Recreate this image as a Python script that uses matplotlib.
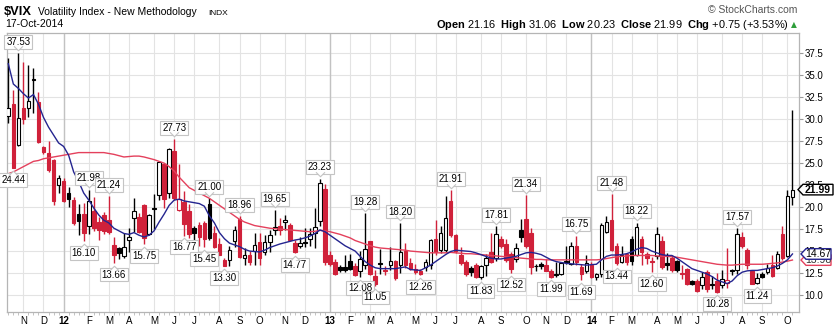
import numpy as np
import pandas as pd
import matplotlib
matplotlib.use('Agg')
import matplotlib.pyplot as plt
from matplotlib.patches import Polygon, Rectangle
from matplotlib.path import Path
from matplotlib.transforms import IdentityTransform, offset_copy

plt.rcParams['font.family'] = ['Liberation Sans', 'DejaVu Sans']
plt.rcParams['mathtext.fontset'] = 'custom'
plt.rcParams['mathtext.rm'] = 'Liberation Sans'
plt.rcParams['mathtext.bf'] = 'Liberation Sans:bold'

W, H = 836, 331

# weekly bars, week ending Friday
weeks = pd.date_range('2011-10-21', '2014-10-17', freq='W-FRI')

opens = [30.4, 31.7, 27.1, 31.3, 31.3, 34.6, 32.0, 26.8, 26.2, 25.4,
         22.5, 23.0, 21.6, 20.8, 19.2, 19.2, 17.9, 19.6, 18.3, 19.1,
         18.5, 15.7, 15.3, 14.4, 16.3, 18.8, 18.9, 20.2, 16.9, 19.85,
         21.4, 24.9, 21.6, 26.4, 19.7, 20.6, 19.5, 17.6, 18.0, 18.2,
         20.4, 17.0, 15.8, 14.0, 14.0, 16.1, 18.7, 14.2, 14.6, 15.0,
         16.0, 14.9, 16.0, 17.4, 17.9, 18.3, 18.0, 15.9, 15.6, 16.0,
         16.4, 17.1, 18.4, 22.1, 14.5, 13.8, 13.2, 13.2, 13.9, 13.3,
         12.7, 13.4, 16.1, 12.2, 13.6, 12.8, 13.4, 13.9, 13.4, 15.0,
         13.6, 13.0, 12.7, 13.2, 13.4, 16.4, 15.1, 15.1, 20.7, 16.8,
         14.6, 13.8, 13.1, 13.4, 12.1, 13.4, 14.9, 14.2, 16.4, 15.8,
         14.7, 14.1, 17.4, 18.6, 17.0, 13.3, 13.5, 13.4, 12.7, 12.35,
         12.4, 13.85, 13.5, 15.6, 13.2, 12.7, 13.4, 12.0, 12.4, 17.2,
         18.5, 15.6, 13.8, 14.7, 16.4, 14.6, 16.4, 14.7, 13.9, 14.4,
         16.1, 13.6, 14.2, 13.9, 12.5, 13.0, 11.6, 11.6, 11.1, 12.6,
         11.15, 11.6, 11.1, 11.4, 12.75, 12.8, 16.6, 15.1, 12.7, 11.4,
         12.4, 12.6, 13.4, 13.1, 16.9, 14.4, 21.16]
highs = [36.9, 33.3, 37.53, 36.5, 36.2, 35.8, 33.1, 27.0, 27.5, 25.5,
         23.7, 23.3, 22.3, 21.2, 20.4, 20.5, 21.98, 21.2, 18.9, 19.4,
         21.24, 16.6, 15.5, 17.0, 17.6, 21.0, 19.3, 20.4, 19.2, 21.5,
         25.2, 25.0, 26.7, 27.73, 24.9, 21.8, 20.3, 17.8, 18.3, 18.4,
         21.0, 17.8, 16.5, 14.2, 15.6, 17.9, 18.96, 15.3, 15.0, 17.0,
         17.0, 16.8, 17.4, 19.65, 18.8, 19.1, 18.2, 16.3, 16.6, 17.6,
         17.6, 19.9, 23.23, 22.6, 15.0, 14.1, 13.4, 14.6, 14.7, 13.6,
         15.0, 19.28, 16.2, 12.9, 15.2, 13.3, 15.5, 14.0, 18.20, 15.9,
         14.2, 13.5, 13.0, 14.1, 16.4, 18.5, 17.9, 21.3, 21.91, 16.9,
         15.5, 14.0, 13.3, 13.6, 13.4, 14.7, 17.0, 17.81, 16.7, 16.4,
         14.9, 15.9, 18.7, 21.34, 17.6, 13.5, 13.8, 14.1, 13.0, 13.8,
         13.8, 15.6, 16.0, 16.75, 13.5, 14.6, 13.7, 12.5, 18.2, 19.0,
         21.48, 15.9, 15.6, 14.8, 16.7, 18.22, 16.7, 14.9, 14.3, 17.7,
         16.7, 14.8, 14.5, 14.0, 13.4, 13.1, 11.7, 11.8, 12.6, 12.9,
         12.2, 12.5, 12.9, 15.3, 13.0, 17.57, 17.2, 15.3, 12.9, 12.5,
         12.6, 13.5, 14.6, 15.0, 17.9, 22.0, 31.06]
lows = [29.6, 24.44, 26.9, 29.5, 30.3, 30.7, 27.3, 26.0, 24.0, 20.2,
        21.6, 20.6, 20.0, 18.0, 16.8, 16.10, 16.9, 17.3, 16.3, 16.9,
        16.9, 13.66, 14.1, 14.2, 14.9, 17.2, 17.0, 15.75, 16.8, 17.5,
        20.8, 19.9, 21.0, 20.8, 19.5, 16.77, 16.5, 16.3, 15.6, 15.45,
        16.3, 15.3, 14.5, 13.30, 13.35, 15.5, 14.2, 13.4, 13.4, 13.4,
        13.4, 14.5, 14.9, 16.8, 16.8, 17.4, 16.1, 14.77, 15.3, 15.5,
        15.6, 15.3, 17.8, 13.4, 13.3, 12.3, 12.6, 12.6, 12.8, 12.2,
        12.08, 13.0, 12.3, 11.05, 12.4, 12.3, 12.8, 11.7, 12.5, 13.1,
        12.9, 12.4, 12.26, 12.7, 13.0, 14.6, 14.8, 14.9, 16.6, 14.8,
        13.4, 12.2, 12.2, 11.9, 11.83, 12.2, 13.6, 13.9, 15.3, 13.8,
        12.52, 13.8, 16.0, 15.3, 12.4, 12.7, 13.0, 12.7, 11.99, 12.1,
        12.3, 13.5, 13.4, 13.4, 11.69, 12.5, 11.9, 11.7, 12.1, 17.0,
        15.0, 13.44, 13.6, 13.4, 13.4, 14.4, 13.4, 13.5, 12.60, 14.1,
        13.0, 12.8, 12.6, 12.6, 11.8, 11.1, 11.1, 10.4, 10.7, 10.4,
        10.7, 10.28, 10.8, 10.8, 12.3, 12.4, 15.3, 13.0, 11.3, 11.24,
        11.9, 12.4, 12.0, 13.0, 14.0, 14.3, 20.23]
closes = [31.3, 24.5, 30.1, 30.0, 32.1, 34.5, 27.4, 26.3, 24.2, 20.7,
          23.3, 20.7, 20.9, 18.2, 18.4, 17.1, 20.7, 17.6, 17.4, 17.3,
          17.2, 14.5, 14.8, 15.5, 16.6, 19.5, 17.2, 16.5, 19.1, 19.8,
          25.1, 20.9, 26.6, 21.0, 20.9, 18.1, 16.9, 17.0, 16.6, 16.4,
          16.45, 15.5, 14.6, 13.35, 15.1, 17.4, 14.3, 14.5, 13.8, 15.7,
          14.2, 16.0, 16.8, 17.7, 17.4, 18.5, 16.3, 14.9, 15.9, 15.9,
          16.9, 17.7, 22.7, 13.7, 13.5, 12.4, 12.8, 12.85, 13.0, 12.3,
          14.1, 15.2, 12.4, 11.2, 13.5, 12.7, 13.9, 11.9, 14.9, 13.4,
          13.0, 12.6, 12.4, 13.8, 16.3, 14.9, 17.0, 18.8, 16.8, 15.0,
          13.6, 12.4, 12.6, 12.0, 13.3, 14.2, 13.8, 16.9, 15.6, 14.0,
          13.0, 15.4, 16.6, 15.6, 13.2, 13.25, 13.3, 12.7, 12.1, 12.3,
          13.6, 13.8, 15.6, 13.7, 12.4, 13.6, 12.0, 12.4, 18.0, 18.3,
          15.1, 13.6, 14.5, 13.7, 13.9, 17.7, 14.9, 14.2, 13.8, 16.9,
          13.2, 13.4, 12.8, 12.85, 12.4, 11.2, 11.25, 10.5, 12.1, 10.7,
          11.1, 10.3, 11.8, 11.7, 12.7, 16.9, 15.6, 13.4, 11.3, 11.9,
          12.1, 13.1, 12.2, 14.7, 14.2, 21.24, 21.99]

# 10-week and 40-week simple moving averages
sma10 = [36.3, 34.0, 33.5, 32.9, 32.4, 32.8, 31.7, 30.2, 29.1, 28.2,
         27.3, 26.9, 25.9, 24.0, 22.9, 21.6, 20.8, 19.9, 19.1, 18.5,
         18.2, 17.6, 17.3, 17.0, 16.9, 17.1, 16.8, 16.6, 16.8, 17.3,
         18.3, 19.2, 20.2, 20.8, 20.9, 20.7, 20.6, 20.5, 20.4, 20.1,
         19.0, 18.2, 17.1, 16.4, 15.9, 15.7, 15.5, 15.2, 15.0, 14.95,
         14.9, 15.1, 15.4, 15.6, 15.8, 15.95, 16.1, 16.25, 16.35, 16.5,
         16.7, 17.0, 17.4, 17.2, 16.8, 16.4, 16.0, 15.6, 15.3, 15.0,
         14.4, 13.8, 13.4, 13.1, 13.0, 13.0, 13.0, 13.0, 13.1, 13.2,
         12.9, 12.85, 12.8, 13.1, 13.4, 13.8, 14.2, 14.6, 14.95, 15.1,
         15.05, 15.0, 14.95, 14.8, 14.6, 14.4, 14.2, 14.1, 14.1, 14.2,
         14.3, 14.4, 14.6, 14.8, 14.85, 14.75, 14.6, 14.3, 14.0, 13.8,
         13.7, 13.6, 13.55, 13.5, 13.45, 13.4, 13.45, 13.5, 14.0, 14.4,
         14.55, 14.55, 14.6, 14.7, 14.9, 15.2, 15.4, 15.3, 15.0, 14.8,
         14.6, 14.5, 14.5, 14.2, 13.8, 13.4, 13.0, 12.8, 12.6, 12.4,
         12.1, 11.7, 11.5, 11.3, 11.6, 12.2, 12.6, 12.75, 12.8, 12.8,
         12.9, 13.0, 13.1, 13.3, 13.6, 14.0, 14.67]
sma40 = [23.8, 24.0, 24.3, 24.6, 24.9, 25.2, 25.3, 25.5, 25.6, 25.7,
         25.8, 25.9, 26.0, 26.1, 26.2, 26.2, 26.2, 26.2, 26.2, 26.2,
         26.1, 26.0, 25.85, 25.7, 25.75, 25.8, 25.8, 25.7, 25.55, 25.4,
         25.2, 25.0, 24.6, 24.1, 23.4, 22.8, 22.2, 21.9, 21.6, 21.3,
         21.0, 20.6, 20.2, 19.8, 19.4, 19.0, 18.6, 18.3, 18.1, 17.9,
         17.8, 17.7, 17.6, 17.55, 17.5, 17.45, 17.4, 17.35, 17.3, 17.25,
         17.2, 17.25, 17.35, 17.3, 17.2, 17.05, 16.9, 16.7, 16.5, 16.2,
         16.0, 15.8, 15.6, 15.45, 15.35, 15.3, 15.25, 15.2, 15.15, 15.1,
         15.0, 14.95, 14.9, 14.85, 14.8, 14.8, 14.8, 14.8, 14.85, 14.8,
         14.75, 14.7, 14.7, 14.65, 14.6, 14.55, 14.5, 14.45, 14.4, 14.35,
         14.3, 14.25, 14.2, 14.15, 14.1, 14.05, 14.05, 14.0, 14.0, 14.0,
         14.0, 14.0, 14.0, 14.0, 14.0, 14.0, 14.0, 14.0, 14.05, 14.15,
         14.25, 14.35, 14.4, 14.45, 14.5, 14.5, 14.5, 14.5, 14.5, 14.45,
         14.4, 14.4, 14.35, 14.3, 14.2, 14.1, 14.0, 13.9, 13.8, 13.7,
         13.6, 13.5, 13.45, 13.4, 13.4, 13.45, 13.5, 13.5, 13.5, 13.5,
         13.5, 13.55, 13.6, 13.65, 13.75, 13.85, 13.98]

# weeks whose high / low carries a value tag
peak_weeks = [2, 16, 20, 33, 40, 46, 53, 62, 71, 78, 88, 97, 103, 113, 120, 125, 145]
trough_weeks = [1, 15, 21, 27, 35, 39, 43, 57, 70, 73, 82, 94, 100, 108, 114,
                121, 128, 141, 149]

RED = '#d0213a'
BLUE_MA = '#24248f'
RED_MA = '#e4405c'
GRID = '#e3e3e3'
TAG_EDGE = '#c4c4c4'

fig = plt.figure(figsize=(W / 100, H / 100), dpi=100)
left, right, top, bottom = 6.7, 799, 33, 312
ax = fig.add_axes([left / W, 1 - bottom / H, (right - left) / W, (bottom - top) / H])

x = np.arange(len(weeks))
o = np.array(opens)
h = np.array(highs)
l = np.array(lows)
c = np.array(closes)
prev = np.r_[c[0], c[:-1]]

for i in x:
    col = RED if c[i] < prev[i] else 'black'
    hollow = c[i] > o[i]
    ax.vlines(i, l[i], h[i], color=col, lw=1.0, zorder=3)
    lo = min(o[i], c[i])
    ht = max(abs(c[i] - o[i]), 0.1)
    ax.add_patch(Rectangle((i - 0.36, lo), 0.72, ht, fc='white' if hollow else col,
                           ec=col, lw=0.8, zorder=4))

ax.plot(x, sma40, color=RED_MA, lw=1.0, zorder=5)
ax.plot(x, sma10, color=BLUE_MA, lw=1.0, zorder=5)

ax.set_xlim(-0.32, 157.3)
ax.set_ylim(8.07, 39.8)

# month gridlines start on the first week whose Monday is in the new month
mondays = weeks - pd.Timedelta(days=4)
tick_idx = [i for i in range(1, len(weeks)) if mondays[i].month != mondays[i - 1].month]
labels = [f'{mondays[i].year % 100:02d}' if mondays[i].month == 1
          else 'JFMAMJJASOND'[mondays[i].month - 1] for i in tick_idx]
ax.set_xticks(tick_idx)
ax.set_xticklabels(labels)
for lab, i in zip(ax.get_xticklabels(), tick_idx):
    if mondays[i].month == 1:
        lab.set_fontweight('bold')
ax.set_xticks(x, minor=True)
ax.tick_params(axis='x', which='major', length=0, pad=3, labelsize=7)
ax.tick_params(axis='x', which='minor', length=2, width=0.5, color='#aaaaaa')

ax.set_yticks(np.arange(10, 37.6, 2.5))
ax.yaxis.set_major_formatter(plt.FuncFormatter(lambda v, p: f'{v:.1f}'))
ax.yaxis.tick_right()
ax.tick_params(axis='y', length=3, width=0.8, color='#999999', pad=1, labelsize=7)

ax.set_axisbelow(True)
ax.grid(True, color=GRID, lw=0.8)
for i in tick_idx:
    if mondays[i].month == 1:
        ax.axvline(i, color='#c2c2c2', lw=1.0, zorder=1)
for s in ax.spines.values():
    s.set_color('#b5b5b5')
    s.set_linewidth(0.9)

# value tags on swing highs and lows
notch_dn = Path([(-1, 0.5), (0, -0.5), (1, 0.5)])
notch_up = Path([(-1, -0.5), (0, 0.5), (1, -0.5)])
for i in peak_weeks:
    ax.annotate(f'{highs[i]:.2f}', xy=(i, highs[i]), xytext=(0, 8.2), textcoords='offset points',
                ha='center', va='center', fontsize=7,
                bbox=dict(boxstyle='square,pad=0.2', fc='white', ec=TAG_EDGE, lw=0.8),
                zorder=7, annotation_clip=False)
    ax.plot(i, highs[i], marker=notch_dn, ms=6.5, mfc='white', mec=TAG_EDGE, mew=0.8,
            transform=offset_copy(ax.transData, fig=fig, x=0, y=4.8, units='dots'),
            zorder=8, clip_on=False)
for i in trough_weeks:
    ax.annotate(f'{lows[i]:.2f}', xy=(i, lows[i]), xytext=(0, -8.4), textcoords='offset points',
                ha='center', va='center', fontsize=7,
                bbox=dict(boxstyle='square,pad=0.2', fc='white', ec=TAG_EDGE, lw=0.8),
                zorder=7, annotation_clip=False)
    ax.plot(i, lows[i], marker=notch_up, ms=6.5, mfc='white', mec=TAG_EDGE, mew=0.8,
            transform=offset_copy(ax.transData, fig=fig, x=0, y=-4.8, units='dots'),
            zorder=8, clip_on=False)


def price_tag(val, text, edge, color, weight, tip, end, z):
    yc = ax.transData.transform((0, val))[1]
    hh = 5.3
    pts = [(tip, yc), (tip + 5, yc + hh), (end, yc + hh), (end, yc - hh), (tip + 5, yc - hh)]
    fig.add_artist(Polygon(pts, closed=True, fc='white', ec=edge, lw=1.0,
                           transform=IdentityTransform(), zorder=z))
    fig.text((tip + end) / 2 + 2.5, yc, text, transform=IdentityTransform(), ha='center',
             va='center', fontsize=7.5, fontweight=weight, color=color, zorder=z + 0.5)


price_tag(sma40[-1], f'{sma40[-1]:.2f}', RED_MA, '#333333', 'normal', 801, 831, 10)
price_tag(sma10[-1], f'{sma10[-1]:.2f}', BLUE_MA, 'black', 'normal', 801, 831, 11)
price_tag(closes[-1], f'{closes[-1]:.2f}', 'black', 'black', 'bold', 798, 833, 12)

# header
def px(xp, yp):
    return xp / W, 1 - yp / H


fig.text(*px(4, 15), r'\$VIX', fontsize=9.3, fontweight='bold', va='baseline')
fig.text(*px(38, 15), 'Volatility Index - New Methodology', fontsize=7.5, va='baseline')
fig.text(*px(208, 15), 'INDX', fontsize=6, va='baseline')
fig.text(*px(5, 26.7), weeks[-1].strftime('%d-%b-%Y'), fontsize=7.5, va='baseline')
fig.text(*px(797, 13), '\u00a9 StockCharts.com', fontsize=7.5, color='#555555',
         ha='right', va='baseline')
chg = closes[-1] - closes[-2]
summary = (rf'$\bf{{Open}}$ {opens[-1]:.2f}  $\bf{{High}}$ {highs[-1]:.2f}  '
           rf'$\bf{{Low}}$ {lows[-1]:.2f}  $\bf{{Close}}$ {closes[-1]:.2f}  '
           rf'$\bf{{Chg}}$ +{chg:.2f} (+{chg / closes[-2] * 100:.2f}%)')
fig.text(*px(789, 27.5), summary, fontsize=7.9, ha='right', va='baseline')
fig.text(*px(797, 27.5), '\u25b2', fontsize=5.5, color='#2e9e3a', ha='right', va='baseline',
         family='DejaVu Sans')

fig.savefig('out.png', dpi=100)
